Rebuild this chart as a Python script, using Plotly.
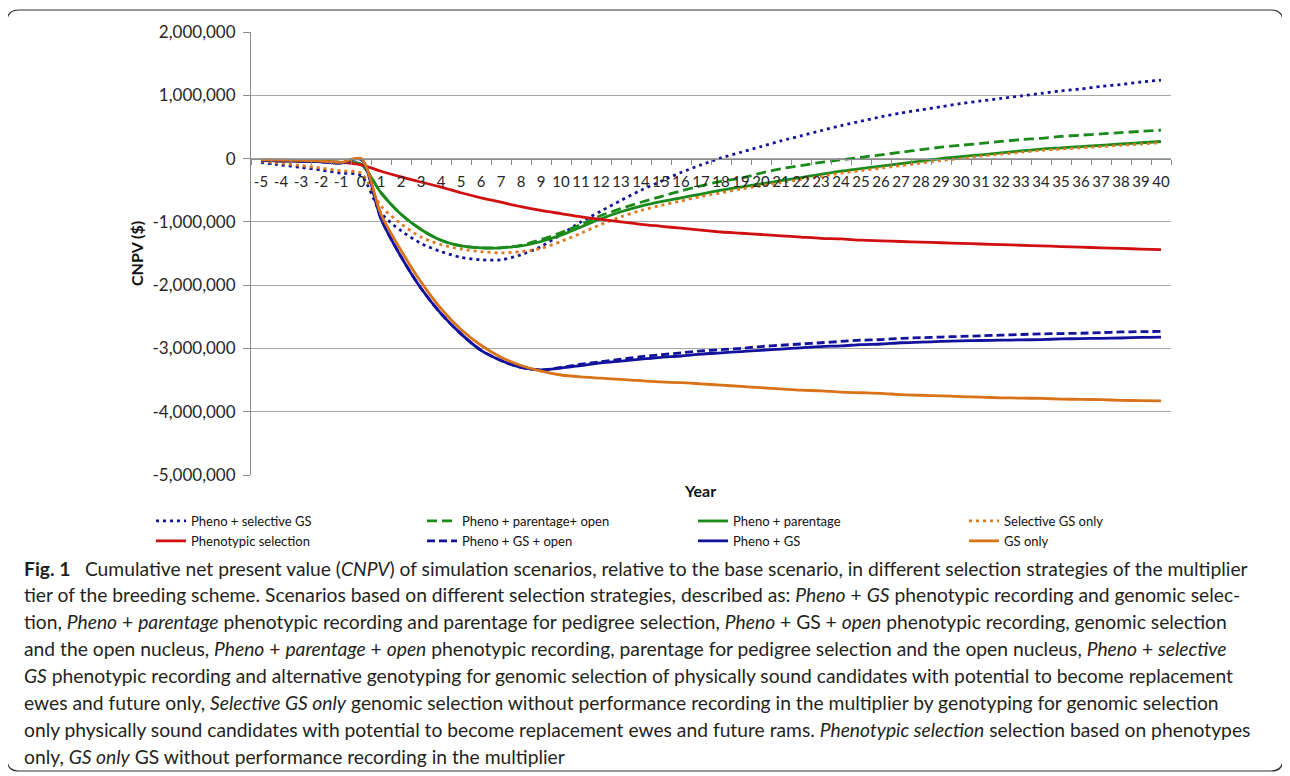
import plotly.graph_objects as go

years = [str(y) for y in range(-5, 41)]

pheno_selective_gs = [-60000, -100000, -140000, -180000, -230000, -270000, -860000, -1140000, -1340000, -1470000,
                      -1560000, -1600000, -1600000, -1520000, -1390000, -1200000, -1000000, -830000, -660000, -500000,
                      -360000, -220000, -100000, 10000, 100000, 190000, 280000, 360000, 440000, 520000,
                      590000, 660000, 720000, 770000, 820000, 870000, 910000, 950000, 990000, 1030000,
                      1070000, 1100000, 1140000, 1170000, 1210000, 1240000]
pheno_parentage_open = [-30000, -35000, -40000, -45000, -60000, -90000, -540000, -880000, -1120000, -1290000,
                        -1380000, -1410000, -1410000, -1370000, -1280000, -1170000, -1040000, -900000, -790000, -690000,
                        -600000, -510000, -430000, -360000, -310000, -230000, -160000, -110000, -60000, -20000,
                        20000, 60000, 100000, 140000, 180000, 210000, 240000, 270000, 300000, 320000,
                        350000, 370000, 390000, 410000, 430000, 450000]
pheno_parentage = [-30000, -35000, -40000, -45000, -60000, -90000, -540000, -880000, -1120000, -1290000,
                   -1380000, -1410000, -1410000, -1380000, -1310000, -1210000, -1080000, -950000, -840000, -750000,
                   -680000, -620000, -560000, -500000, -450000, -400000, -350000, -300000, -250000, -200000,
                   -160000, -120000, -80000, -40000, 0, 30000, 60000, 90000, 120000, 150000,
                   170000, 190000, 210000, 230000, 250000, 270000]
selective_gs_only = [-40000, -75000, -110000, -150000, -195000, -230000, -750000, -1030000, -1240000, -1360000,
                     -1430000, -1470000, -1490000, -1470000, -1420000, -1310000, -1180000, -1040000, -920000, -820000,
                     -740000, -670000, -600000, -540000, -480000, -430000, -380000, -330000, -280000, -230000,
                     -190000, -150000, -110000, -70000, -30000, 0, 40000, 70000, 100000, 130000,
                     150000, 170000, 190000, 210000, 230000, 250000]
phenotypic_selection = [-30000, -35000, -40000, -45000, -60000, -100000, -200000, -290000, -370000, -450000,
                        -540000, -620000, -690000, -760000, -820000, -870000, -920000, -960000, -1000000, -1040000,
                        -1070000, -1100000, -1130000, -1160000, -1180000, -1200000, -1220000, -1240000, -1260000, -1270000,
                        -1290000, -1300000, -1310000, -1320000, -1330000, -1340000, -1350000, -1360000, -1370000, -1380000,
                        -1390000, -1400000, -1410000, -1420000, -1430000, -1440000]
pheno_gs_open = [-30000, -35000, -40000, -50000, -70000, -10000, -950000, -1550000, -2050000, -2450000,
                 -2770000, -3030000, -3190000, -3300000, -3340000, -3300000, -3250000, -3210000, -3170000, -3130000,
                 -3100000, -3070000, -3040000, -3020000, -3000000, -2970000, -2950000, -2930000, -2910000, -2890000,
                 -2870000, -2860000, -2840000, -2830000, -2820000, -2810000, -2800000, -2790000, -2780000, -2770000,
                 -2765000, -2760000, -2750000, -2740000, -2735000, -2730000]
pheno_gs = [-30000, -35000, -40000, -50000, -70000, -10000, -950000, -1550000, -2050000, -2450000,
            -2770000, -3030000, -3190000, -3300000, -3340000, -3310000, -3270000, -3230000, -3200000, -3170000,
            -3140000, -3120000, -3090000, -3070000, -3050000, -3030000, -3010000, -2990000, -2970000, -2960000,
            -2940000, -2930000, -2910000, -2900000, -2890000, -2880000, -2875000, -2870000, -2865000, -2860000,
            -2850000, -2845000, -2840000, -2835000, -2825000, -2820000]
gs_only = [-20000, -25000, -30000, -40000, -60000, 0, -880000, -1450000, -1950000, -2370000,
           -2700000, -2950000, -3140000, -3270000, -3360000, -3420000, -3450000, -3470000, -3490000, -3510000,
           -3530000, -3540000, -3560000, -3580000, -3600000, -3620000, -3640000, -3660000, -3670000, -3690000,
           -3700000, -3710000, -3730000, -3740000, -3750000, -3760000, -3770000, -3780000, -3785000, -3790000,
           -3800000, -3805000, -3810000, -3820000, -3825000, -3830000]

y_tick_vals = [2000000, 1000000, 0, -1000000, -2000000, -3000000, -4000000, -5000000]
y_tick_text = ["2,000,000", "1,000,000", "0", "-1,000,000", "-2,000,000", "-3,000,000", "-4,000,000", "-5,000,000"]

series = [
    ("Pheno + selective GS", pheno_selective_gs, "#12129c", "3px,4px"),
    ("Pheno + parentage+ open", pheno_parentage_open, "#1a8a1a", "10px,5px"),
    ("Pheno + parentage", pheno_parentage, "#1a8a1a", "solid"),
    ("Selective GS only", selective_gs_only, "#e0781e", "3px,4px"),
    ("Phenotypic selection", phenotypic_selection, "#d01010", "solid"),
    ("Pheno + GS + open", pheno_gs_open, "#12129c", "8px,4px"),
    ("Pheno + GS", pheno_gs, "#12129c", "solid"),
    ("GS only", gs_only, "#d9731a", "solid"),
]

caption_lines = [
    "<b>Fig. 1</b>\u2002 Cumulative net present value (<i>CNPV</i>) of simulation scenarios, relative to the base scenario, in different selection strategies of the multiplier",
    "tier of the breeding scheme. Scenarios based on different selection strategies, described as: <i>Pheno</i> + <i>GS</i> phenotypic recording and genomic selec-",
    "tion, <i>Pheno</i> + <i>parentage</i> phenotypic recording and parentage for pedigree selection, <i>Pheno</i> + GS + <i>open</i> phenotypic recording, genomic selection",
    "and the open nucleus, <i>Pheno</i> + <i>parentage</i> + <i>open</i> phenotypic recording, parentage for pedigree selection and the open nucleus, <i>Pheno</i> + <i>selective</i>",
    "<i>GS</i> phenotypic recording and alternative genotyping for genomic selection of physically sound candidates with potential to become replacement",
    "ewes and future only, <i>Selective GS only</i> genomic selection without performance recording in the multiplier by genotyping for genomic selection",
    "only physically sound candidates with potential to become replacement ewes and future rams. <i>Phenotypic selection</i> selection based on phenotypes",
    "only, <i>GS only</i> GS without performance recording in the multiplier",
]

# the page adds an 8px body margin: work in screenshot pixels, convert to figure space
OFF = 8
W, H = 1290 - OFF, 776 - OFF
PL, PR, PT, PB = 251 - OFF, 1171 - OFF, 32 - OFF, 475 - OFF


def px(x):
    return (x - OFF - PL) / (PR - PL)


def py(y):
    return (PB - (y - OFF)) / (PB - PT)


fig = go.Figure()
for name, vals, color, dash in series:
    fig.add_trace(go.Scatter(
        x=years, y=vals, name=name, mode="lines",
        line=dict(color=color, width=2.8, dash=dash, shape="spline", smoothing=0.8),
    ))

chart_font = "Lato, sans-serif"

fig.update_layout(
    width=W, height=H,
    margin=dict(l=PL, r=W - PR, t=PT, b=H - PB, autoexpand=False),
    paper_bgcolor="white", plot_bgcolor="white",
    showlegend=True,
    legend=dict(
        orientation="h", x=px(151), y=py(506), xanchor="left", yanchor="top",
        font=dict(family=chart_font, size=13, color="#111111"),
        entrywidth=226, entrywidthmode="pixels", itemwidth=30,
        traceorder="normal", bgcolor="rgba(0,0,0,0)",
    ),
    xaxis=dict(
        type="category", anchor="free", position=5 / 7,
        showline=True, linecolor="#8c8c8c", linewidth=1,
        ticks="outside", ticklen=5, tickcolor="#8c8c8c", tickson="boundaries",
        showgrid=False, zeroline=False,
        tickfont=dict(family=chart_font, size=15, color="#262626"),
        ticklabelstandoff=9, tickangle=0,
        range=[-0.5, 45.5],
    ),
    yaxis=dict(
        range=[-5000000, 2000000],
        tickvals=y_tick_vals, ticktext=y_tick_text,
        showline=True, linecolor="#8c8c8c", linewidth=1,
        ticks="outside", ticklen=7, tickcolor="#8c8c8c",
        showgrid=True, gridcolor="#a6a6a6", gridwidth=1,
        zeroline=False,
        tickfont=dict(family=chart_font, size=17, color="#262626"),
        ticklabelstandoff=4,
    ),
)

fig.add_annotation(text="<b>Year</b>", xref="paper", yref="paper", x=px(700), y=py(491),
                   showarrow=False, xanchor="center", yanchor="middle",
                   font=dict(family=chart_font, size=16, color="#111111"))
fig.add_annotation(text="<b>CNPV ($)</b>", xref="paper", yref="paper", x=px(136), y=py(254),
                   showarrow=False, xanchor="center", yanchor="middle", textangle=-90,
                   font=dict(family=chart_font, size=16, color="#111111"))

cap_y0, cap_dy = 568, 26.9
for i, line in enumerate(caption_lines):
    fig.add_annotation(text=line, xref="paper", yref="paper", x=px(22), y=py(cap_y0 + i * cap_dy),
                       showarrow=False, xanchor="left", yanchor="middle", align="left",
                       font=dict(family="Lato, sans-serif", size=19.25, color="#231f20"))

# rounded frame around the figure
x0, y0, x1, y1, r = 7, 10, 1283, 771, 12
path = (f"M {px(x0 + r)},{py(y0)} L {px(x1 - r)},{py(y0)} Q {px(x1)},{py(y0)} {px(x1)},{py(y0 + r)} "
        f"L {px(x1)},{py(y1 - r)} Q {px(x1)},{py(y1)} {px(x1 - r)},{py(y1)} "
        f"L {px(x0 + r)},{py(y1)} Q {px(x0)},{py(y1)} {px(x0)},{py(y1 - r)} "
        f"L {px(x0)},{py(y0 + r)} Q {px(x0)},{py(y0)} {px(x0 + r)},{py(y0)} Z")
fig.add_shape(type="path", path=path, xref="paper", yref="paper",
              line=dict(color="#333333", width=1.2), layer="above")

fig.write_html("out.html")
